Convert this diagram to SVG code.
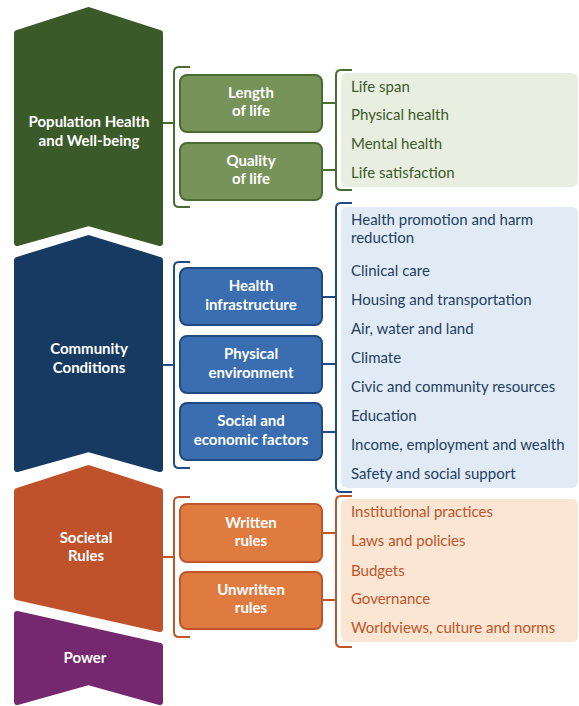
<svg xmlns="http://www.w3.org/2000/svg" width="579" height="706" viewBox="0 0 579 706">
<style>
.chev{stroke-width:6;stroke-linejoin:round}
.ct{font-family:Lato,"Open Sans",sans-serif;font-weight:bold;font-size:15px;fill:#fff;text-anchor:middle}
.bt{font-family:Lato,"Open Sans",sans-serif;font-weight:bold;font-size:15px;fill:#fff;text-anchor:middle}
.li{font-family:Lato,"Open Sans",sans-serif;font-size:15px}
.br{fill:none;stroke-width:2}
.g .box{fill:#77935a;stroke:#4b6b34;stroke-width:2}
.b .box{fill:#3a6eb0;stroke:#1f4b82;stroke-width:2}
.o .box{fill:#e07b40;stroke:#c0542a;stroke-width:2}
</style>
<rect width="579" height="706" fill="#fff"/>

<g id="population-health" class="g">
<path class="chev" fill="#3b5a2a" stroke="#3b5a2a" d="M17,33 L88.5,10 L160,33 L160,243 L88.5,223 L17,243 Z"/>
<text class="ct" x="89" y="127">Population Health</text>
<text class="ct" x="89" y="146">and Well-being</text>
</g>
<g id="community-conditions">
<path class="chev" fill="#173a63" stroke="#173a63" d="M17,260 L88.5,238 L160,260 L160,469 L88.5,449 L17,469 Z"/>
<text class="ct" x="89" y="354">Community</text>
<text class="ct" x="89" y="373">Conditions</text>
</g>
<g id="societal-rules">
<path class="chev" fill="#bf512b" stroke="#bf512b" d="M17,491 L88.5,468 L160,491 L160,629 L17,597 Z"/>
<text class="ct" x="86" y="543">Societal</text>
<text class="ct" x="86" y="561">Rules</text>
</g>
<g id="power">
<path class="chev" fill="#76286e" stroke="#76286e" d="M17,614 L160,646 L160,702 L88.5,682 L17,702 Z"/>
<text class="ct" x="85" y="663">Power</text>
</g>

<g id="connectors">
<g stroke="#4b6b34" class="br">
<path d="M163,123 H174 M190,67 H179 Q174,67 174,72 V202 Q174,207 179,207 H190"/>
<path d="M323,103 H336 M323,170 H336 M352,70 H341 Q336,70 336,75 V185 Q336,190 341,190 H352"/>
</g>
<g stroke="#1f4b82" class="br">
<path d="M163,365 H174 M190,262 H179 Q174,262 174,267 V463 Q174,468 179,468 H190"/>
<path d="M323,297 H336 M323,364 H336 M323,432 H336 M352,203 H341 Q336,203 336,208 V487 Q336,492 341,492 H352"/>
</g>
<g stroke="#c0542a" class="br">
<path d="M163,557 H174 M190,497 H179 Q174,497 174,502 V632 Q174,637 179,637 H190"/>
<path d="M323,533 H336 M323,600 H336 M352,496 H341 Q336,496 336,501 V642 Q336,647 341,647 H352"/>
</g>
</g>

<g id="length-of-life" class="g">
<rect class="box" x="180" y="75" width="142" height="57" rx="7"/>
<text class="bt" x="251" y="98">Length</text>
<text class="bt" x="251" y="116">of life</text>
</g>
<g id="quality-of-life" class="g">
<rect class="box" x="180" y="143" width="142" height="57" rx="7"/>
<text class="bt" x="251" y="166">Quality</text>
<text class="bt" x="251" y="184">of life</text>
</g>
<g id="health-infrastructure" class="b">
<rect class="box" x="180" y="268" width="142" height="57" rx="7"/>
<text class="bt" x="251" y="291">Health</text>
<text class="bt" x="251" y="310">infrastructure</text>
</g>
<g id="physical-environment" class="b">
<rect class="box" x="180" y="336" width="142" height="57" rx="7"/>
<text class="bt" x="251" y="359">Physical</text>
<text class="bt" x="251" y="378">environment</text>
</g>
<g id="social-economic" class="b">
<rect class="box" x="180" y="403" width="142" height="57" rx="7"/>
<text class="bt" x="251" y="426">Social and</text>
<text class="bt" x="251" y="445">economic factors</text>
</g>
<g id="written-rules" class="o">
<rect class="box" x="180" y="504" width="142" height="58" rx="7"/>
<text class="bt" x="251" y="528">Written</text>
<text class="bt" x="251" y="546">rules</text>
</g>
<g id="unwritten-rules" class="o">
<rect class="box" x="180" y="572" width="142" height="57" rx="7"/>
<text class="bt" x="251" y="595">Unwritten</text>
<text class="bt" x="251" y="613">rules</text>
</g>

<g id="pop-health-list">
<rect x="341" y="73" width="237" height="114" rx="6" fill="#e8eee0"/>
<g class="li" fill="#3d5a2a">
<text x="351" y="92">Life span</text>
<text x="351" y="120">Physical health</text>
<text x="351" y="149">Mental health</text>
<text x="351" y="178">Life satisfaction</text>
</g>
</g>
<g id="community-list">
<rect x="341" y="207" width="237" height="281" rx="6" fill="#e1ebf6"/>
<g class="li" fill="#243f5f">
<text x="351" y="225">Health promotion and harm</text>
<text x="351" y="243">reduction</text>
<text x="351" y="276">Clinical care</text>
<text x="351" y="305">Housing and transportation</text>
<text x="351" y="334">Air, water and land</text>
<text x="351" y="363">Climate</text>
<text x="351" y="392">Civic and community resources</text>
<text x="351" y="421">Education</text>
<text x="351" y="450">Income, employment and wealth</text>
<text x="351" y="479">Safety and social support</text>
</g>
</g>
<g id="societal-list">
<rect x="341" y="499" width="237" height="143" rx="6" fill="#fae6d2"/>
<g class="li" fill="#c0542a">
<text x="351" y="517">Institutional practices</text>
<text x="351" y="546">Laws and policies</text>
<text x="351" y="576">Budgets</text>
<text x="351" y="604">Governance</text>
<text x="351" y="633">Worldviews, culture and norms</text>
</g>
</g>
</svg>
